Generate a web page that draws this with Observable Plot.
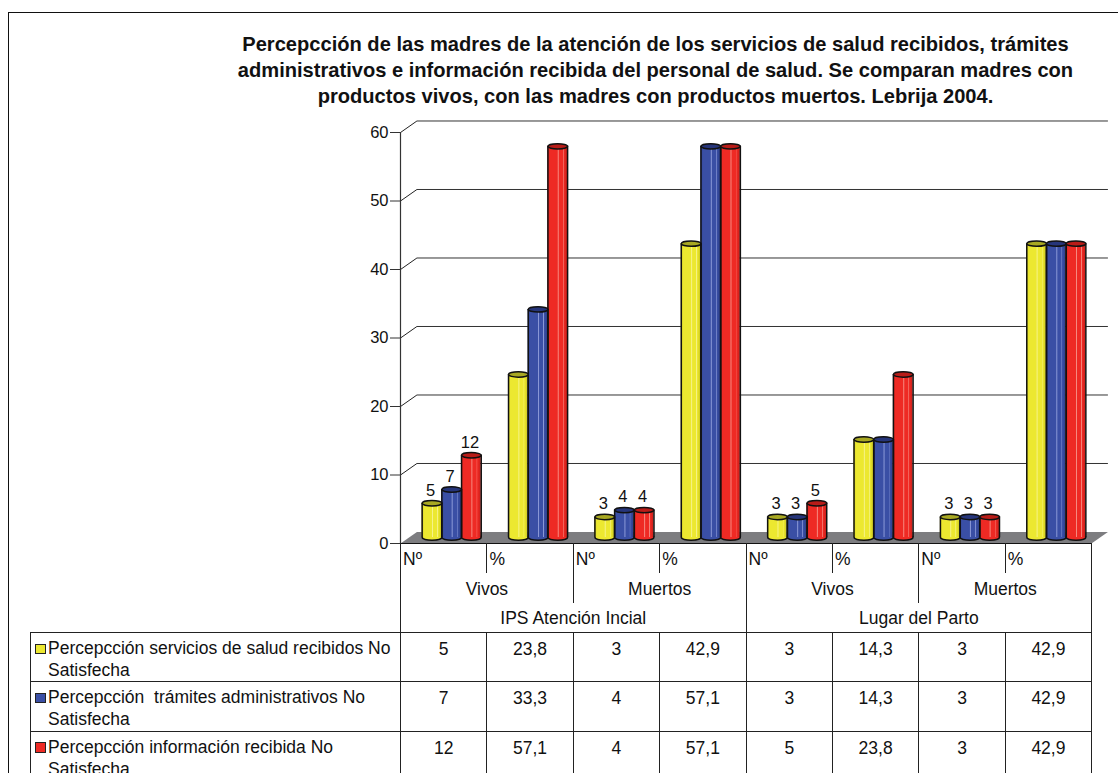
<!DOCTYPE html>
<html>
<head>
<meta charset="utf-8">
<script src="https://cdn.jsdelivr.net/npm/d3@7"></script>
<script src="https://cdn.jsdelivr.net/npm/@observablehq/plot@0.6"></script>
<style>
html,body{margin:0;padding:0;background:#fff;overflow:hidden}
#page{position:relative;width:1118px;height:773px;overflow:hidden;font-family:"Liberation Sans",Arial,sans-serif;color:#111}
#frame{position:absolute;left:8px;top:12px;width:1120px;height:780px;border:1.5px solid #111;box-sizing:border-box}
#title{position:absolute;left:155.5px;width:1000px;top:31px;text-align:center;font-weight:bold;font-size:20.1px;line-height:26px;color:#111;white-space:pre-line}
#chart{position:absolute;left:0;top:0}
#chart svg{display:block}
#tbl{position:absolute;left:29.5px;top:543px;border-collapse:collapse;table-layout:fixed;width:1061.7px;font-size:17.5px;line-height:21.7px}
#tbl td{padding:0;overflow:hidden}
#tbl td.v{text-align:center;vertical-align:top;padding-top:6px;border:1px solid #222;height:41px}
#tbl td.l{vertical-align:top;padding:5px 4px 0 17.5px;border:1px solid #222;white-space:pre-wrap;position:relative}
#tbl td.k{vertical-align:middle;text-align:left;padding:3px 0 0 2px;border-left:1px solid #222;height:27px}
#tbl td.m{vertical-align:middle;text-align:center;padding-top:3px;border-left:1px solid #222;height:27px}
#tbl td.end{border-right:1px solid #222}
.sw{position:absolute;left:4.5px;top:10.5px;width:8.5px;height:8.5px;border:1.5px solid #222}
</style>
</head>
<body>
<div id="page">
<div id="frame"></div>
<div id="chart"></div>
<div id="title"></div>
<table id="tbl"></table>
</div>
<script>
const title = "Percepcción de las madres de la atención de los servicios de salud recibidos, trámites\nadministrativos e información recibida del personal de salud. Se comparan madres con\nproductos vivos, con las madres con productos muertos. Lebrija 2004.";
const columns = ["Nº","%","Nº","%","Nº","%","Nº","%"];
const groups = ["Vivos","Muertos","Vivos","Muertos"];
const places = ["IPS Atención Incial","Lugar del Parto"];
const seriesNames = [
  "Percepcción servicios de salud recibidos No Satisfecha",
  "Percepcción  trámites administrativos No Satisfecha",
  "Percepcción información recibida No Satisfecha"
];
const serviciosValues = [5,23.8,3,42.9,3,14.3,3,42.9];
const tramitesValues  = [7,33.3,4,57.1,3,14.3,3,42.9];
const informacionValues = [12,57.1,4,57.1,5,23.8,3,42.9];
const yTicks = [0,10,20,30,40,50,60];
const seriesColors = ["#ece830","#3a4fa5","#ee2a24"];
const seriesLight = ["#f6f38a","#8c9ad8","#f68a80"];
const seriesDark = ["#c9c51e","#2c3d88","#c81f1a"];
const capColors = ["#a8a822","#26357a","#b81c18"];

const allValues = [serviciosValues,tramitesValues,informacionValues];
const bars = allValues.flatMap((vals,s)=>vals.map((value,i)=>({s,i,value,col:columns[i]})));

const barW = 0.228, depthX = 0.19, depthY = 1.68;
const x1 = d => d.i + 0.5 + (d.s-1.5)*barW;
const x2 = d => d.i + 0.5 + (d.s-0.5)*barW;
const xc = d => d.i + 0.5 + (d.s-1)*barW;

// elliptical caps of the cylinders
const ellipse = {draw(ctx){
  const rx=9.8, ry=2.7, kx=rx*0.5523, ky=ry*0.5523;
  ctx.moveTo(-rx,0);
  ctx.bezierCurveTo(-rx,-ky,-kx,-ry,0,-ry);
  ctx.bezierCurveTo(kx,-ry,rx,-ky,rx,0);
  ctx.bezierCurveTo(rx,ky,kx,ry,0,ry);
  ctx.bezierCurveTo(-kx,ry,-rx,ky,-rx,0);
  ctx.closePath();
}};
const off = {dx:8, dy:-6};

const defs = () => {
  const d = d3.create("svg:defs");
  seriesColors.forEach((c,s)=>{
    const g = d.append("linearGradient").attr("id","cyl"+s);
    [[0,seriesDark[s]],[.12,c],[.5,c],[.55,seriesLight[s]],[.6,c],[.78,c],[.8,seriesLight[s]],[.84,c],[1,seriesDark[s]]]
      .forEach(([o,col])=>g.append("stop").attr("offset",o).attr("stop-color",col));
  });
  return d.node();
};

const floor = [{x:0,y:0},{x:8,y:0},{x:8+depthX,y:depthY},{x:depthX,y:depthY},{x:0,y:0}];

const plot = Plot.plot({
  width:1118, height:773,
  marginLeft:400, marginRight:27, marginTop:132, marginBottom:230,
  x:{domain:[0,8], axis:null},
  y:{domain:[0,60], axis:null},
  color:{type:"identity"},
  style:{fontFamily:'"Liberation Sans",Arial,sans-serif', background:"transparent", color:"#111"},
  marks:[
    defs,
    Plot.line(floor,{x:"x",y:"y",fill:"#7d7d80",stroke:"none"}),
    Plot.link(yTicks.slice(1),{x1:0,x2:depthX,y1:d=>d,y2:d=>d+depthY,stroke:"#222",strokeWidth:1}),
    Plot.link(yTicks.slice(1),{x1:depthX,x2:8+depthX,y1:d=>d+depthY,y2:d=>d+depthY,stroke:"#333",strokeWidth:1}),
    Plot.ruleY([0],{stroke:"#111",strokeWidth:1.2}),
    Plot.ruleX([0],{stroke:"#333",strokeWidth:1.2}),
    Plot.axisY({ticks:yTicks,tickSize:10,tickPadding:2,fontSize:16.5,label:null,stroke:"#333"}),
    Plot.dot(bars,{x:xc,y:()=>0,symbol:ellipse,fill:d=>seriesColors[d.s],stroke:"#111",strokeWidth:1.5,...off}),
    Plot.rect(bars,{x1,x2,y1:()=>0,y2:"value",fill:d=>`url(#cyl${d.s})`,stroke:"none",inset:0,...off}),
    Plot.ruleX(bars,{x:x1,y1:()=>0,y2:"value",stroke:"#111",strokeWidth:1.5,...off}),
    Plot.ruleX(bars,{x:x2,y1:()=>0,y2:"value",stroke:"#111",strokeWidth:1.5,...off}),
    Plot.dot(bars,{x:xc,y:"value",symbol:ellipse,fill:d=>capColors[d.s],stroke:"#111",strokeWidth:1.5,...off}),
    Plot.text(bars.filter(d=>d.col==="Nº"),{x:xc,y:"value",text:d=>String(d.value),fontSize:16.5,dx:6.5,dy:-19,fill:"#111"})
  ]
});
document.getElementById("chart").append(plot);
document.getElementById("title").textContent = title;

const fmt = v => String(v).replace(".",",");
const tbl = d3.select("#tbl");
const cg = tbl.append("colgroup");
cg.append("col").style("width","370.5px");
columns.forEach(()=>cg.append("col").style("width","86.4px"));

const r1 = tbl.append("tr");
r1.append("td");
columns.forEach((c,i)=>r1.append("td").attr("class","k"+(i===7?" end":"")).text(c));
const r2 = tbl.append("tr");
r2.append("td");
groups.forEach((g,i)=>r2.append("td").attr("colspan",2).attr("class","m"+(i===3?" end":"")).text(g));
const r3 = tbl.append("tr");
r3.append("td").style("height","26px");
places.forEach((p,i)=>r3.append("td").attr("colspan",4).attr("class","m"+(i===1?" end":"")).style("height","26px").text(p));
seriesNames.forEach((n,s)=>{
  const r = tbl.append("tr");
  const l = r.append("td").attr("class","l").text(n);
  l.append("span").attr("class","sw").style("background",seriesColors[s]);
  allValues[s].forEach(v=>r.append("td").attr("class","v").text(fmt(v)));
});
</script>
</body>
</html>
